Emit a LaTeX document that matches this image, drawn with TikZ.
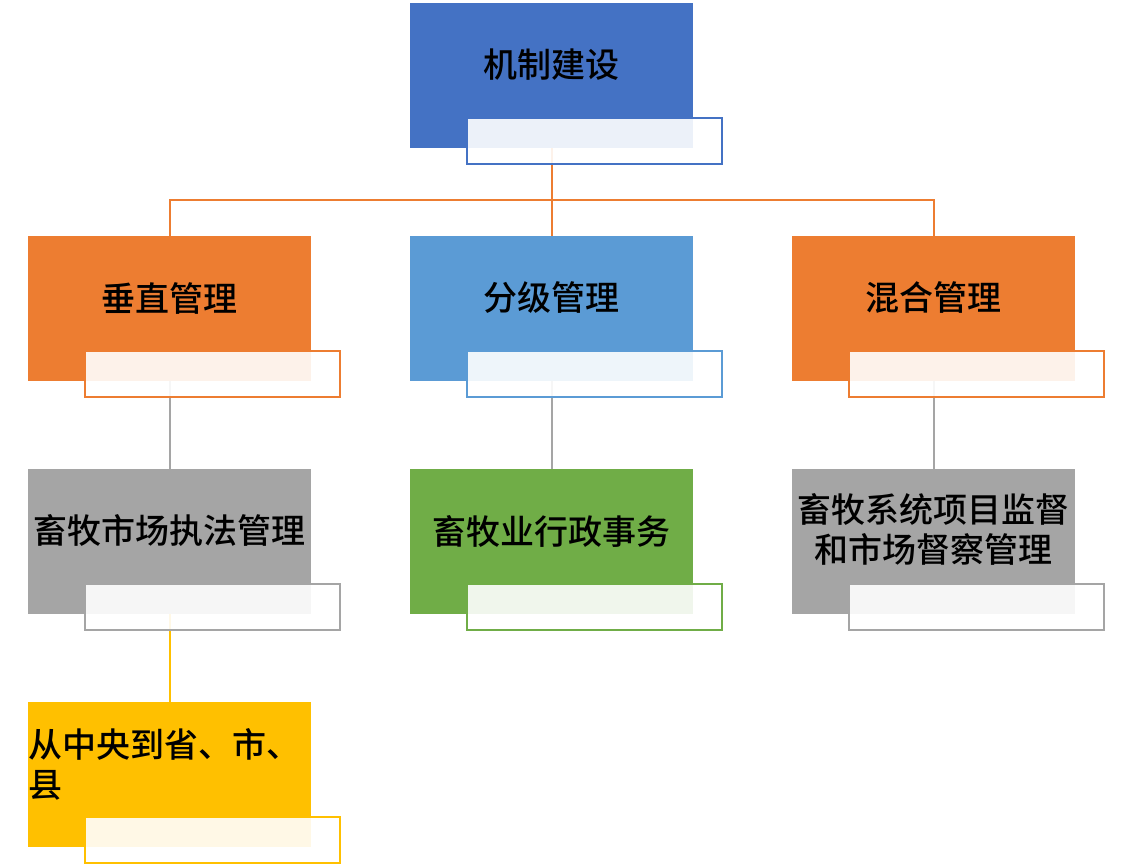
\documentclass[tikz,border=0pt]{standalone}
\usepackage{fontspec}
\newfontfamily\cjk{Noto Sans CJK SC}[BoldFont={Noto Sans CJK SC Medium}]
\usetikzlibrary{positioning}
\definecolor{darkblue}{HTML}{4472C4}
\definecolor{lightblue}{HTML}{5B9BD5}
\definecolor{myorange}{HTML}{ED7D31}
\definecolor{mygray}{HTML}{A5A5A5}
\definecolor{mygreen}{HTML}{70AD47}
\definecolor{myyellow}{HTML}{FFC000}

\begin{document}
\begin{tikzpicture}[x=1pt,y=-1pt]
        \tikzset{box/.style = {fill=#1, minimum width=283pt, minimum height=145pt, inner sep=0pt, anchor=north west}}
        \tikzset{cover/.style = {draw=#1, line width=2pt, fill=white, fill opacity=0.9, minimum width=255pt, minimum height=46pt, inner sep=0pt, anchor=north west}}
        \tikzset{boxtext/.style = {font=\cjk\bfseries\fontsize{34}{40}\selectfont, align=center, inner sep=0pt}}
        \tikzset{edge/.style = {draw=#1, line width=2pt}}
        \useasboundingbox (0,0) rectangle (1132,866);
        % vertices
        \coordinate (jizhi) at (410,3);
        \coordinate (chuizhi) at (28,236);
        \coordinate (fenji) at (410,236);
        \coordinate (hunhe) at (792,236);
        \coordinate (zhifa) at (28,469);
        \coordinate (xingzheng) at (410,469);
        \coordinate (jiandu) at (792,469);
        \coordinate (xianji) at (28,702);
        %edges
        \coordinate (fork) at (552,200);
        \draw[edge=myorange] ([xshift=142pt]jizhi) -- (fork);
        \draw[edge=myorange] (fork) -| ([xshift=142pt]chuizhi);
        \draw[edge=myorange] (fork) -- ([xshift=142pt]fenji);
        \draw[edge=myorange] (fork) -| ([xshift=142pt]hunhe);
        \draw[edge=mygray] ([xshift=142pt,yshift=-145pt]chuizhi) -- ([xshift=142pt]zhifa);
        \draw[edge=mygray] ([xshift=142pt,yshift=-145pt]fenji) -- ([xshift=142pt]xingzheng);
        \draw[edge=mygray] ([xshift=142pt,yshift=-145pt]hunhe) -- ([xshift=142pt]jiandu);
        \draw[edge=myyellow] ([xshift=142pt,yshift=-145pt]zhifa) -- ([xshift=142pt]xianji);
        % boxes
        \node[box=darkblue] (jizhi-b) at (jizhi) {};
        \node[box=myorange] (chuizhi-b) at (chuizhi) {};
        \node[box=lightblue] (fenji-b) at (fenji) {};
        \node[box=myorange] (hunhe-b) at (hunhe) {};
        \node[box=mygray] (zhifa-b) at (zhifa) {};
        \node[box=mygreen] (xingzheng-b) at (xingzheng) {};
        \node[box=mygray] (jiandu-b) at (jiandu) {};
        \node[box=myyellow] (xianji-b) at (xianji) {};
        % covers
        \node[cover=darkblue] (jizhi-c) at ([xshift=56pt,yshift=-114pt]jizhi-b.north west) {};
        \node[cover=myorange] (chuizhi-c) at ([xshift=56pt,yshift=-114pt]chuizhi-b.north west) {};
        \node[cover=lightblue] (fenji-c) at ([xshift=56pt,yshift=-114pt]fenji-b.north west) {};
        \node[cover=myorange] (hunhe-c) at ([xshift=56pt,yshift=-114pt]hunhe-b.north west) {};
        \node[cover=mygray] (zhifa-c) at ([xshift=56pt,yshift=-114pt]zhifa-b.north west) {};
        \node[cover=mygreen] (xingzheng-c) at ([xshift=56pt,yshift=-114pt]xingzheng-b.north west) {};
        \node[cover=mygray] (jiandu-c) at ([xshift=56pt,yshift=-114pt]jiandu-b.north west) {};
        \node[cover=myyellow] (xianji-c) at ([xshift=56pt,yshift=-114pt]xianji-b.north west) {};
        % texts
        \node[boxtext] (jizhi-t) at ([yshift=-62pt]jizhi-b.north) {机制建设};
        \node[boxtext] (chuizhi-t) at ([yshift=-62pt]chuizhi-b.north) {垂直管理};
        \node[boxtext] (fenji-t) at ([yshift=-62pt]fenji-b.north) {分级管理};
        \node[boxtext] (hunhe-t) at ([yshift=-62pt]hunhe-b.north) {混合管理};
        \node[boxtext] (zhifa-t) at ([yshift=-62pt]zhifa-b.north) {畜牧市场执法管理};
        \node[boxtext] (xingzheng-t) at ([yshift=-62pt]xingzheng-b.north) {畜牧业行政事务};
        \node[boxtext] (jiandu-t) at ([yshift=-60pt]jiandu-b.north) {畜牧系统项目监督\\和市场督察管理};
        \node[boxtext, align=left, anchor=west] (xianji-t) at ([yshift=-62pt]xianji-b.north west) {从中央到省、市、\\县};
    \end{tikzpicture}
\end{document}
